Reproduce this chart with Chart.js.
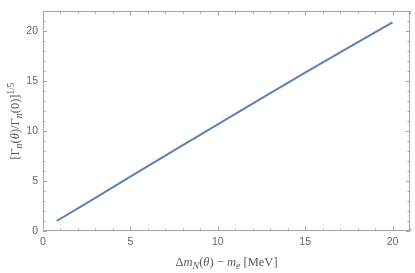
<!DOCTYPE html>
<html>
<head>
<meta charset="utf-8">
<script src="https://cdn.jsdelivr.net/npm/chart.js@4/dist/chart.umd.min.js"></script>
<style>
html, body { margin: 0; padding: 0; background: #fff; }
#wrap { width: 415px; height: 273px; }
</style>
</head>
<body>
<div id="wrap"><canvas id="plot"></canvas></div>
<script>
// values
var massDiff = [0.78, 2.5, 5, 7.5, 10, 12.5, 15, 17.5, 20];
var rateRoot = [1.0, 2.8, 5.45, 8.07, 10.67, 13.27, 15.85, 18.39, 20.9];
var xTicks = [0, 5, 10, 15, 20];
var yTicks = [0, 5, 10, 15, 20];

var frameColor = '#a6a6a6';
var labelColor = '#5a5a5a';
var serif = '"Liberation Serif", "DejaVu Serif", serif';

// draw a list of text pieces (italic / sub / sup) starting at x
function richText(ctx, parts, x, y, size, measureOnly) {
    var w = 0;
    parts.forEach(function(p) {
        var fs = p.sub ? size * 0.8 : (p.sup ? size * 0.75 : size);
        ctx.font = (p.it ? 'italic ' : '') + fs + 'px ' + serif;
        var dy = p.sub ? size * 0.25 : (p.sup ? -size * 0.42 : 0);
        if (!measureOnly) ctx.fillText(p.t, x + w, y + dy);
        w += ctx.measureText(p.t).width;
    });
    return w;
}

var xTitle = [
    {t: 'Δ'}, {t: 'm', it: 1}, {t: 'N', it: 1, sub: 1}, {t: '('}, {t: 'θ', it: 1}, {t: ')'},
    {t: ' − '}, {t: 'm', it: 1}, {t: 'e', it: 1, sub: 1}, {t: ' [MeV]'}
];
var yTitle = [
    {t: '[Γ'}, {t: 'n', it: 1, sub: 1}, {t: '('}, {t: 'θ', it: 1}, {t: ')/Γ'}, {t: 'n', it: 1, sub: 1},
    {t: '(0)]'}, {t: '1/5', sup: 1}
];

var framePlugin = {
    id: 'frame',
    afterDraw: function(chart) {
        var ctx = chart.ctx, a = chart.chartArea;
        var sx = chart.scales.x, sy = chart.scales.y;
        ctx.save();
        ctx.strokeStyle = frameColor;
        ctx.lineWidth = 1;
        ctx.strokeRect(Math.round(a.left) + 0.5, Math.round(a.top) + 0.5,
            Math.round(a.right - a.left) - 1, Math.round(a.bottom - a.top) - 1);
        ctx.beginPath();
        for (var i = 0; i <= 21; i++) {
            var px = Math.round(sx.getPixelForValue(i)) + 0.5;
            var len = (i % 5 == 0) ? 4 : 2.5;
            ctx.moveTo(px, a.bottom); ctx.lineTo(px, a.bottom - len);
            ctx.moveTo(px, a.top); ctx.lineTo(px, a.top + len);
        }
        for (var j = 0; j <= 22; j++) {
            var py = Math.round(sy.getPixelForValue(j)) + 0.5;
            var l2 = (j % 5 == 0) ? 4 : 2.5;
            ctx.moveTo(a.left, py); ctx.lineTo(a.left + l2, py);
            ctx.moveTo(a.right, py); ctx.lineTo(a.right - l2, py);
        }
        ctx.stroke();

        // axis titles
        ctx.fillStyle = labelColor;
        ctx.textBaseline = 'alphabetic';
        var size = 12.5;
        var w = richText(ctx, xTitle, 0, 0, size, true);
        richText(ctx, xTitle, (a.left + a.right) / 2 - w / 2, 266, size);

        ctx.translate(19, (a.top + a.bottom) / 2);
        ctx.rotate(-Math.PI / 2);
        var w2 = richText(ctx, yTitle, 0, 0, size, true);
        richText(ctx, yTitle, -w2 / 2, 0, size);
        ctx.restore();
    }
};

var ctx = document.getElementById('plot');
var chart = new Chart(ctx, {
    type: 'line',
    data: {
        datasets: [{
            data: massDiff.map(function(x, i) { return {x: x, y: rateRoot[i]}; }),
            borderColor: '#5e81b5',
            borderWidth: 2,
            pointRadius: 0,
            fill: false,
            tension: 0
        }]
    },
    options: {
        responsive: true,
        maintainAspectRatio: false,
        animation: false,
        layout: { padding: { left: 0, right: 5, top: 4, bottom: 0 } },
        plugins: { legend: { display: false }, tooltip: { enabled: false } },
        scales: {
            x: {
                type: 'linear', min: 0, max: 21,
                afterBuildTicks: function(s) { s.ticks = xTicks.map(function(v) { return {value: v}; }); },
                afterFit: function(s) { s.height = 42; },
                grid: { display: false, drawTicks: false },
                border: { display: false },
                ticks: { color: '#666', padding: 5, maxRotation: 0, autoSkip: false,
                    font: { family: '"Liberation Sans", Arial, sans-serif', size: 10.5 } }
            },
            y: {
                type: 'linear', min: 0, max: 22,
                afterBuildTicks: function(s) { s.ticks = yTicks.map(function(v) { return {value: v}; }); },
                afterFit: function(s) { s.width = 43; },
                grid: { display: false, drawTicks: false },
                border: { display: false },
                ticks: { color: '#666', padding: 5, autoSkip: false,
                    font: { family: '"Liberation Sans", Arial, sans-serif', size: 10.5 } }
            }
        }
    },
    plugins: [framePlugin]
});
</script>
</body>
</html>
